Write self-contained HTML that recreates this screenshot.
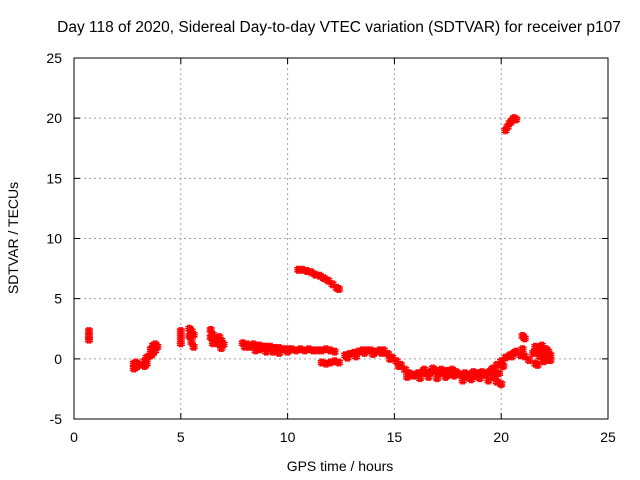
<!DOCTYPE html>
<html><head><meta charset="utf-8"><style>
body{margin:0;background:#fff}
svg{display:block;font-family:"Liberation Sans",sans-serif}
</style></head><body>
<svg id="c" width="640" height="480">
<text x="339" y="32" font-size="15.5" text-anchor="middle">Day 118 of 2020, Sidereal Day-to-day VTEC variation (SDTVAR) for receiver p107</text>
<text x="340" y="471" font-size="14" text-anchor="middle">GPS time / hours</text>
<text transform="translate(18,238) rotate(-90)" font-size="14" text-anchor="middle">SDTVAR / TECUs</text>
<g id="grid"></g><g id="marks"></g>
<rect x="74" y="58" width="534" height="361" fill="none" stroke="#000"/>
</svg>
<script>
const xTicks=[0,5,10,15,20,25];
const yTicks=[-5,0,5,10,15,20,25];
const hours=[0.7,0.7,0.7,2.8,2.8,2.9,2.9,3.0,3.3,3.3,3.4,3.4,3.5,3.6,3.6,3.7,3.7,3.8,3.8,3.9,
5.0,5.0,5.0,5.4,5.4,5.5,5.5,5.6,5.6,6.4,6.4,6.5,6.5,6.6,6.8,6.8,6.9,6.9,7.0,
7.9,8.0,8.1,8.2,8.4,8.5,8.6,8.7,8.8,8.9,9.0,9.1,9.2,9.3,9.4,9.6,9.8,10.0,10.2,10.4,10.6,10.8,11.0,11.2,11.4,11.6,11.8,12.0,12.2,
8.5,8.7,9.0,9.3,9.6,10.0,
10.5,10.7,10.9,11.1,11.3,11.5,11.7,11.9,12.1,12.3,12.4,
11.6,11.8,12.0,12.2,12.4,
12.7,12.9,13.1,13.3,13.5,13.7,13.9,14.1,14.3,14.5,12.8,13.2,13.6,14.0,14.4,
14.7,14.9,15.1,15.3,15.5,15.7,15.9,14.8,15.2,15.6,16.0,
16.1,16.3,16.5,16.7,16.9,17.1,17.3,17.5,17.7,17.9,16.2,16.6,17.0,17.4,17.8,16.4,16.8,17.2,17.6,
18.1,18.3,18.5,18.7,18.9,19.1,19.3,19.5,19.7,19.9,18.2,18.6,19.0,19.4,19.8,18.4,18.8,19.2,19.6,20.0,
19.6,19.8,20.0,20.2,20.4,20.6,20.7,19.7,20.1,20.5,
20.2,20.3,20.4,20.5,20.6,20.7,
21.0,21.1,
20.9,21.0,21.1,21.3,21.5,21.6,21.7,21.8,21.9,22.0,22.1,22.2,22.3,21.6,21.8,22.0,22.2,21.7,21.9,22.1,22.3];
const sdtvar=[2.3,1.9,1.6,-0.4,-0.8,-0.3,-0.7,-0.5,-0.2,-0.6,0.1,-0.4,0.2,0.3,0.8,0.5,1.1,0.7,1.2,1.0,
2.3,1.8,1.3,2.5,1.9,2.3,1.4,2.0,1.0,2.4,1.8,2.0,1.3,1.6,1.8,1.2,1.5,0.9,1.2,
1.3,1.0,1.2,1.0,1.2,1.1,1.0,1.1,0.9,1.0,1.0,0.9,1.0,0.8,0.9,0.9,0.8,0.8,0.8,0.7,0.8,0.7,0.8,0.7,0.7,0.7,0.8,0.7,0.6,
0.7,0.8,0.6,0.6,0.5,0.6,
7.4,7.4,7.3,7.2,7.0,6.9,6.7,6.5,6.2,5.9,5.8,
-0.3,-0.4,-0.3,-0.2,-0.3,
0.3,0.4,0.5,0.6,0.7,0.7,0.7,0.6,0.7,0.7,0.1,0.2,0.5,0.4,0.5,
0.4,0.1,-0.2,-0.5,-0.9,-1.2,-1.4,0.0,-0.6,-1.5,-1.3,
-1.2,-1.1,-1.2,-1.1,-1.0,-1.2,-1.1,-1.0,-0.9,-1.1,-1.6,-1.5,-1.6,-1.5,-1.4,-0.9,-0.8,-0.9,-1.3,
-1.3,-1.2,-1.3,-1.1,-1.2,-1.1,-1.2,-1.0,-1.1,-1.2,-1.8,-1.7,-1.6,-1.8,-1.9,-1.5,-1.4,-1.3,-1.5,-2.1,
-0.8,-0.5,-0.2,0.1,0.3,0.5,0.6,-1.5,-0.6,0.2,
19.0,19.3,19.6,19.8,20.0,19.9,
1.9,1.7,
0.3,0.8,0.2,-0.1,0.5,1.0,0.7,0.2,1.1,0.4,0.8,0.1,0.3,-0.4,0.9,-0.2,0.6,-0.5,0.5,0.0,-0.1];
const NS='http://www.w3.org/2000/svg';
const X=v=>74+(v-0)/25*534, Y=v=>419-(v+5)/30*361;
const g=document.getElementById('grid'), m=document.getElementById('marks');
function mk(t,a,p){const e=document.createElementNS(NS,t);for(const k in a)e.setAttribute(k,a[k]);p.appendChild(e);return e;}
xTicks.forEach(t=>{const x=X(t);
 if(t>0&&t<25){const l=mk('line',{x1:x,x2:x,y1:58,y2:419,stroke:'#a0a0a0','stroke-dasharray':'2,3'},g);
 
 }
 const tk=mk('path',{d:`M${x} 419v-6M${x} 58v6`,stroke:'#000'},g);
 
 
 const tx=mk('text',{x:x,y:442,'font-size':14,'text-anchor':'middle'},g);tx.textContent=t;
 
 });
yTicks.forEach(t=>{const y=Y(t);
 if(t>-5&&t<25){const l=mk('line',{x1:74,x2:608,y1:y,y2:y,stroke:'#a0a0a0','stroke-dasharray':'2,3'},g);
 
 }
 const tk=mk('path',{d:`M74 ${y}h6M608 ${y}h-6`,stroke:'#000'},g);
 
 
 const tx=mk('text',{x:62,y:y+5,'font-size':14,'text-anchor':'end'},g);tx.textContent=t;
 
 });
hours.forEach((h,i)=>{const x=X(h),y=Y(sdtvar[i]);
 for(let d=-2;d<=2;d+=2){
 const p=mk('path',{d:`M${x-4} ${y+d}h8M${x+d*0.8} ${y-4}v8`,stroke:'#ff0000','stroke-width':1.5},m);
 
 }
});
</script>
</body></html>
